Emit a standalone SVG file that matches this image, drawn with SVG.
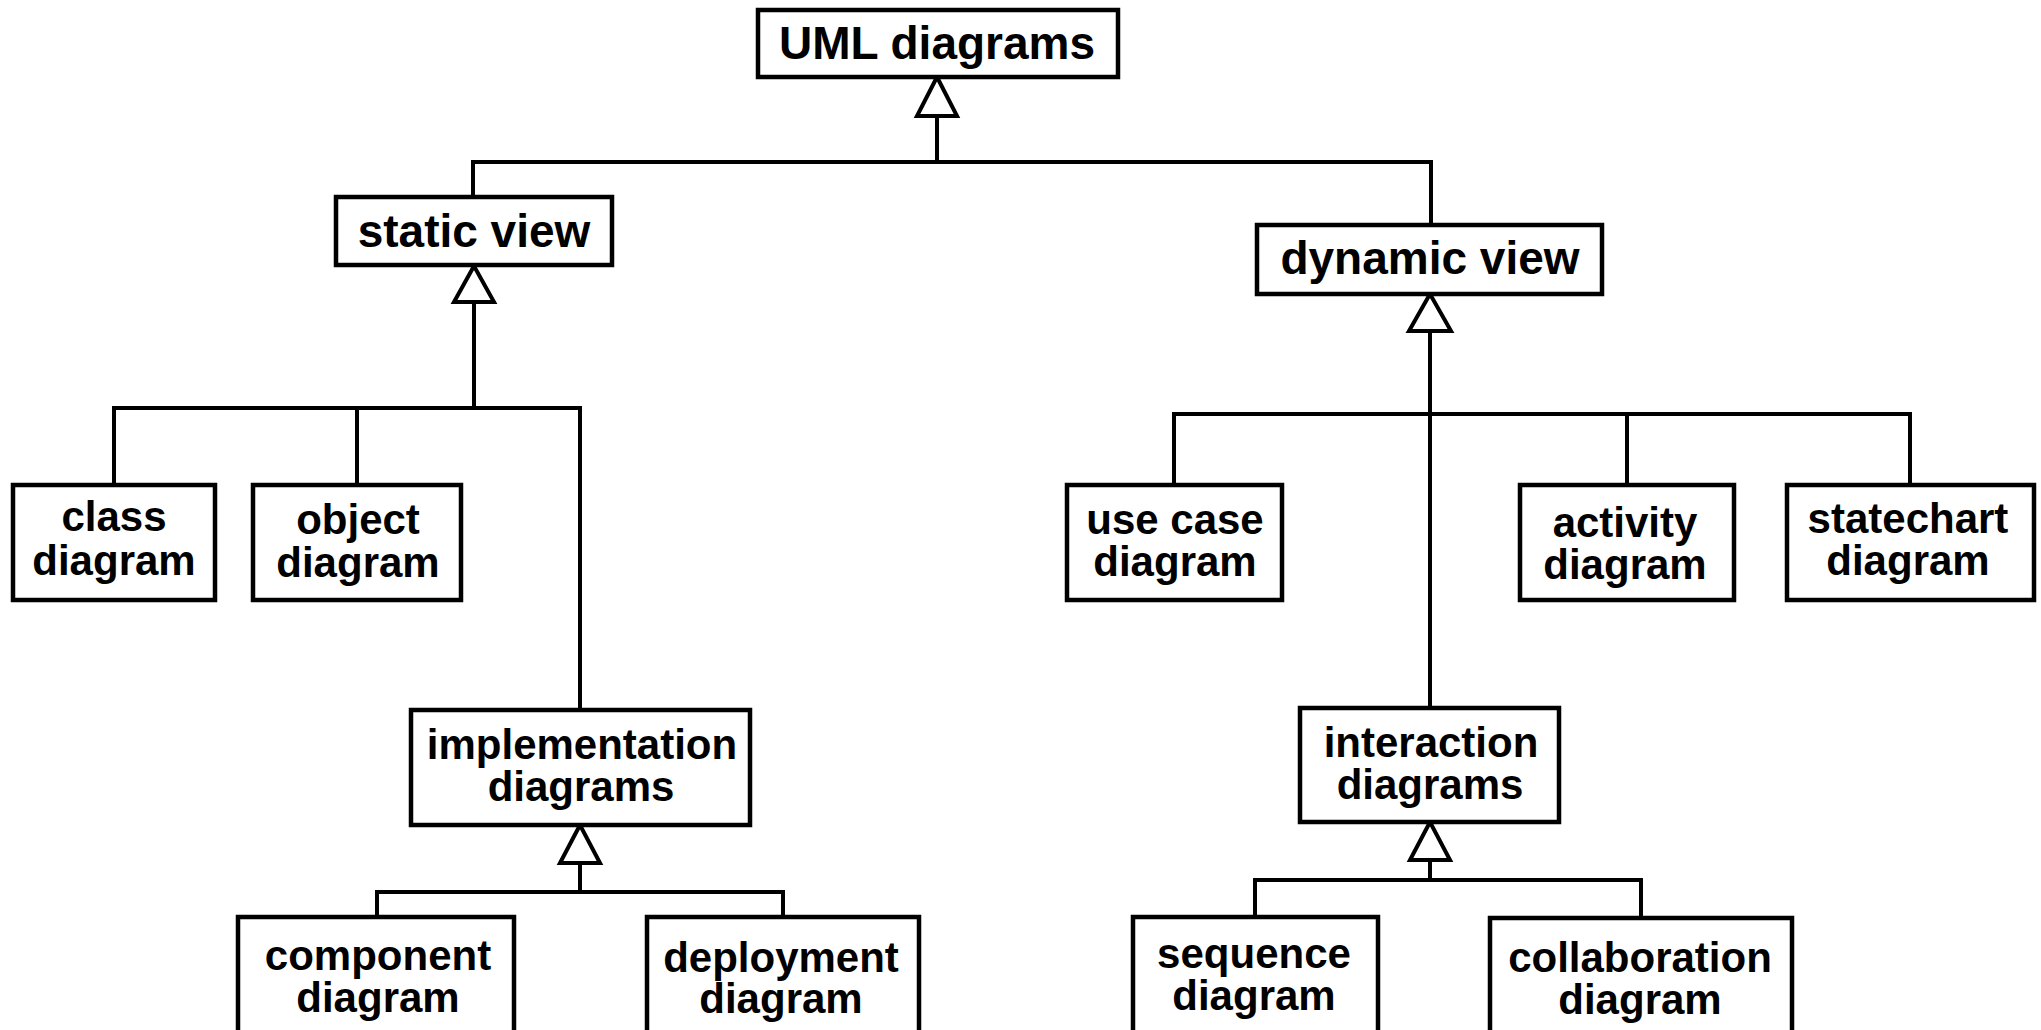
<svg xmlns="http://www.w3.org/2000/svg" width="2041" height="1030" viewBox="0 0 2041 1030">
  <style>
    .box { fill: #fff; stroke: #000; stroke-width: 4.5; }
    .lbl { font-family: "Liberation Sans", Arial, Helvetica, sans-serif; font-weight: bold; fill: #000; text-anchor: middle; }
    .big { font-size: 46px; }
    .sm { font-size: 42px; }
    .wire { fill: none; stroke: #000; stroke-width: 4; stroke-linejoin: miter; }
    .head { fill: #fff; stroke: #000; stroke-width: 4; stroke-linejoin: miter; }
  </style>
  <rect width="2041" height="1030" fill="#fff"/>

  <!-- generalization connectors -->
  <g id="connectors">
    <!-- UML diagrams <- static / dynamic -->
    <path class="wire" d="M937,116 V162 M473,197 V162 H1431 V225"/>
    <polygon class="head" points="937,77 917,116 957,116"/>
    <!-- static view <- class / object / implementation -->
    <path class="wire" d="M474,302 V408 M114,485 V408 H580 V710 M357,408 V485"/>
    <polygon class="head" points="474,266 454,302 494,302"/>
    <!-- dynamic view <- use case / activity / statechart / interaction -->
    <path class="wire" d="M1430,331 V708 M1174,485 V414 H1910 V485 M1627,414 V485"/>
    <polygon class="head" points="1430,294 1409,331 1451,331"/>
    <!-- implementation diagrams <- component / deployment -->
    <path class="wire" d="M580,863 V892 M377,917 V892 H783 V917"/>
    <polygon class="head" points="580,825 560,863 600,863"/>
    <!-- interaction diagrams <- sequence / collaboration -->
    <path class="wire" d="M1430,860 V880 M1255,917 V880 H1641 V918"/>
    <polygon class="head" points="1430,822 1410,860 1450,860"/>
  </g>

  <g id="uml-diagrams">
    <rect class="box" x="758" y="10" width="360" height="67"/>
    <text class="lbl big" x="937" y="59">UML diagrams</text>
  </g>
  <g id="static-view">
    <rect class="box" x="336" y="197" width="276" height="68"/>
    <text class="lbl big" x="474" y="247">static view</text>
  </g>
  <g id="dynamic-view">
    <rect class="box" x="1257" y="225" width="345" height="69"/>
    <text class="lbl big" x="1430" y="274">dynamic view</text>
  </g>

  <g id="class-diagram">
    <rect class="box" x="13" y="485" width="202" height="115"/>
    <text class="lbl sm" x="114" y="531">class</text>
    <text class="lbl sm" x="114" y="575">diagram</text>
  </g>
  <g id="object-diagram">
    <rect class="box" x="253" y="485" width="208" height="115"/>
    <text class="lbl sm" x="358" y="534">object</text>
    <text class="lbl sm" x="358" y="577">diagram</text>
  </g>
  <g id="use-case-diagram">
    <rect class="box" x="1067" y="485" width="215" height="115"/>
    <text class="lbl sm" x="1175" y="534">use case</text>
    <text class="lbl sm" x="1175" y="576">diagram</text>
  </g>
  <g id="activity-diagram">
    <rect class="box" x="1520" y="485" width="214" height="115"/>
    <text class="lbl sm" x="1625" y="537">activity</text>
    <text class="lbl sm" x="1625" y="579">diagram</text>
  </g>
  <g id="statechart-diagram">
    <rect class="box" x="1787" y="485" width="247" height="115"/>
    <text class="lbl sm" x="1908" y="533">statechart</text>
    <text class="lbl sm" x="1908" y="575">diagram</text>
  </g>

  <g id="implementation-diagrams">
    <rect class="box" x="411" y="710" width="339" height="115"/>
    <text class="lbl sm" x="582" y="759">implementation</text>
    <text class="lbl sm" x="581" y="801">diagrams</text>
  </g>
  <g id="interaction-diagrams">
    <rect class="box" x="1300" y="708" width="259" height="114"/>
    <text class="lbl sm" x="1431" y="757">interaction</text>
    <text class="lbl sm" x="1430" y="799">diagrams</text>
  </g>

  <g id="component-diagram">
    <rect class="box" x="238" y="917" width="276" height="125"/>
    <text class="lbl sm" x="378" y="970">component</text>
    <text class="lbl sm" x="378" y="1012">diagram</text>
  </g>
  <g id="deployment-diagram">
    <rect class="box" x="647" y="917" width="272" height="125"/>
    <text class="lbl sm" x="781" y="972">deployment</text>
    <text class="lbl sm" x="781" y="1013">diagram</text>
  </g>
  <g id="sequence-diagram">
    <rect class="box" x="1133" y="917" width="245" height="125"/>
    <text class="lbl sm" x="1254" y="968">sequence</text>
    <text class="lbl sm" x="1254" y="1010">diagram</text>
  </g>
  <g id="collaboration-diagram">
    <rect class="box" x="1490" y="918" width="302" height="124"/>
    <text class="lbl sm" x="1640" y="972">collaboration</text>
    <text class="lbl sm" x="1640" y="1014">diagram</text>
  </g>
</svg>
